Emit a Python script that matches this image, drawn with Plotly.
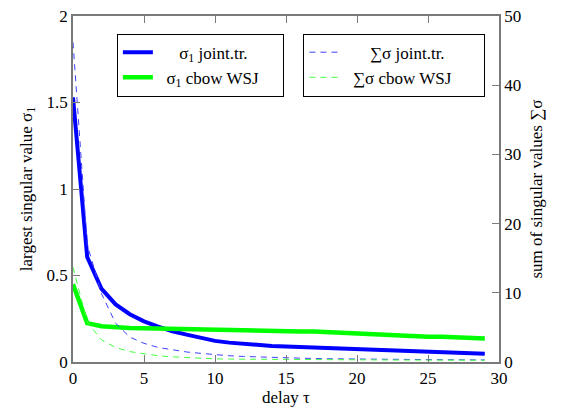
import plotly.graph_objects as go

delay = list(range(30))

sigma1_joint = [1.53, 0.607, 0.424, 0.333, 0.276, 0.235, 0.205, 0.178, 0.158, 0.138,
                0.122, 0.112, 0.104, 0.098, 0.093, 0.089, 0.086, 0.082, 0.077, 0.072,
                0.070, 0.067, 0.064, 0.062, 0.060, 0.058, 0.055, 0.052, 0.050, 0.047]
sigma1_cbow = [0.45, 0.225, 0.207, 0.200, 0.197, 0.195, 0.193, 0.190, 0.187, 0.185,
               0.183, 0.182, 0.180, 0.178, 0.177, 0.177, 0.177, 0.176, 0.172, 0.166,
               0.162, 0.157, 0.158, 0.154, 0.150, 0.146, 0.146, 0.142, 0.138, 0.136]
sum_joint = [46.2, 17.0, 9.9, 5.6, 3.6, 2.7, 2.1, 1.75, 1.45, 1.25,
             1.05, 0.9, 0.8, 0.72, 0.65, 0.6, 0.55, 0.5, 0.47, 0.44,
             0.42, 0.4, 0.38, 0.36, 0.35, 0.34, 0.33, 0.32, 0.31, 0.3]
sum_cbow = [13.7, 5.8, 3.2, 2.1, 1.5, 1.15, 0.9, 0.75, 0.63, 0.53,
            0.45, 0.42, 0.4, 0.38, 0.36, 0.35, 0.34, 0.33, 0.32, 0.31,
            0.3, 0.3, 0.29, 0.28, 0.28, 0.27, 0.27, 0.26, 0.26, 0.25]

NB = "\u00a0"
names1 = [NB * 5 + "σ<sub>1</sub> joint.tr." + NB * 7, NB * 2 + "σ<sub>1</sub> cbow WSJ" + NB * 4]
names2 = [NB * 6 + "∑σ joint.tr." + NB * 8, NB * 2 + "∑σ cbow WSJ" + NB * 5]

FONT = "Liberation Serif, DejaVu Serif, serif"
GREY = "#7a7a7a"

fig = go.Figure()
fig.add_trace(go.Scatter(x=delay, y=sigma1_joint, mode="lines", name=names1[0],
                         line=dict(color="#0000ff", width=4), legend="legend"))
fig.add_trace(go.Scatter(x=delay, y=sigma1_cbow, mode="lines", name=names1[1],
                         line=dict(color="#00ff00", width=4.5), legend="legend"))
fig.add_trace(go.Scatter(x=delay, y=sum_joint, mode="lines", name=names2[0], yaxis="y2",
                         line=dict(color="#4040ff", width=1, dash="6px,5px"), legend="legend2"))
fig.add_trace(go.Scatter(x=delay, y=sum_cbow, mode="lines", name=names2[1], yaxis="y2",
                         line=dict(color="#40ff40", width=1, dash="6px,5px"), legend="legend2"))

axis_common = dict(showgrid=False, zeroline=False, showline=True, linecolor=GREY, linewidth=1.5,
                   ticks="inside", ticklen=7, tickcolor=GREY, tickwidth=1, automargin=False,
                   ticklabeloverflow="allow",
                   tickfont=dict(family=FONT, size=17, color="black"))

# the page body adds an 8px offset, so the figure is 8px smaller with margins trimmed
fig.update_layout(
    width=553, height=404,
    margin=dict(l=65, r=62, t=8, b=50, autoexpand=False),
    paper_bgcolor="white", plot_bgcolor="white",
    font=dict(family=FONT, size=16, color="black"),
    xaxis=dict(range=[0, 30], tickvals=[0, 5, 10, 15, 20, 25, 30], mirror="ticks",
               title=dict(text="delay τ", font=dict(family=FONT, size=17), standoff=2),
               **axis_common),
    yaxis=dict(range=[0, 2], tickvals=[0, 0.5, 1, 1.5, 2], ticktext=["0", "0.5", "1", "1.5", "2"],
               mirror=True,
               title=dict(text="largest singular value σ<sub>1</sub>", font=dict(family=FONT, size=17), standoff=10),
               **axis_common),
    yaxis2=dict(range=[0, 50], tickvals=[0, 10, 20, 30, 40, 50], overlaying="y", side="right",
                title=dict(text="sum of singular values ∑σ", font=dict(family=FONT, size=17), standoff=10),
                **axis_common),
    legend=dict(x=0.103, y=0.949, xanchor="left", yanchor="top", bgcolor="white",
                bordercolor="black", borderwidth=1, font=dict(family=FONT, size=17),
                tracegroupgap=0),
    legend2=dict(x=0.541, y=0.949, xanchor="left", yanchor="top", bgcolor="white",
                 bordercolor="black", borderwidth=1, font=dict(family=FONT, size=17),
                 tracegroupgap=0),
)

fig.write_html("out.html")
